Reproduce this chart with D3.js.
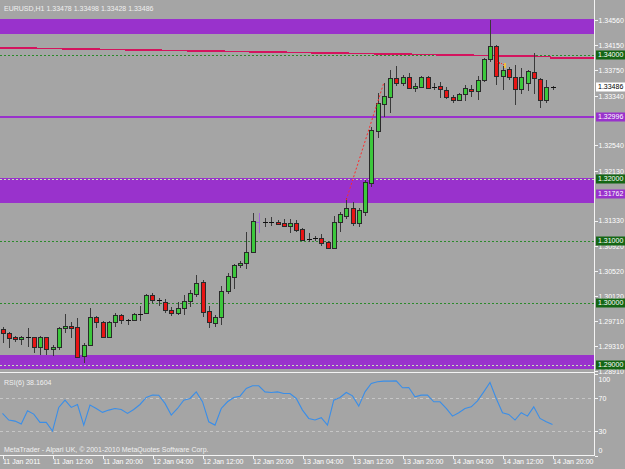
<!DOCTYPE html>
<html>
<head>
<meta charset="utf-8">
<script src="https://cdn.jsdelivr.net/npm/d3@7"></script>
<style>
  html, body { margin: 0; padding: 0; background: #a5a5a5; }
  svg { display: block; }
  text { font-family: "Liberation Sans", Arial, sans-serif; font-size: 7px; }
</style>
</head>
<body>
<div class="container"></div>
<script>
const WIDTH = 625;
const HEIGHT = 469;

// EURUSD H1 bars, 11 Jan 04:00 .. 14 Jan 20:00
const open = [
  1.29585,1.29521,1.29456,1.29424,1.29456,1.29456,1.29295,1.29456,1.29263,1.29295,
  1.29601,1.29633,1.29617,1.29150,1.29328,1.29778,1.29698,1.29456,1.29698,1.29811,
  1.29730,1.29730,1.29827,1.29843,1.30133,1.30052,1.30020,1.29891,1.29843,1.29923,
  1.30036,1.30149,1.30342,1.29875,1.29682,1.29778,1.30197,1.30422,1.30616,1.30648,
  1.30825,1.31308,1.31308,1.31308,1.31308,1.31292,1.31243,1.31292,1.31195,1.31034,
  1.31050,1.31050,1.30986,1.30889,1.31308,1.31404,1.31533,1.31292,1.31469,1.31936,
  1.32773,1.33208,1.33320,1.33626,1.33546,1.33642,1.33465,1.33481,1.33642,1.33481,
  1.33497,1.33433,1.33320,1.33272,1.33369,1.33449,1.33417,1.33594,1.33932,1.34141,
  1.33658,1.33771,1.33642,1.33449,1.33546,1.33723,1.33610,1.33272,1.33478];
const high = [
  1.29617,1.29537,1.29472,1.29472,1.29601,1.29456,1.29472,1.29456,1.29328,1.29617,
  1.29827,1.29698,1.29762,1.29360,1.29923,1.29794,1.29714,1.29714,1.29843,1.29827,
  1.29746,1.29843,1.29955,1.30149,1.30165,1.30084,1.30068,1.29939,1.30020,1.30133,
  1.30213,1.30455,1.30374,1.29955,1.29811,1.30277,1.30487,1.30632,1.30680,1.31147,
  1.31453,1.31453,1.31372,1.31388,1.31340,1.31356,1.31356,1.31340,1.31211,1.31131,
  1.31082,1.31115,1.31002,1.31404,1.31469,1.31694,1.31630,1.31533,1.31984,1.32837,
  1.33385,1.33546,1.33755,1.33819,1.33675,1.33707,1.33546,1.33658,1.33658,1.33546,
  1.33562,1.33481,1.33353,1.33385,1.33514,1.33514,1.33658,1.33948,1.34560,1.34158,
  1.33819,1.33803,1.33836,1.33787,1.33755,1.34029,1.33626,1.33594,1.33498];
const low = [
  1.29360,1.29279,1.29376,1.29328,1.29295,1.29199,1.29167,1.29167,1.29150,1.29247,
  1.29521,1.29440,1.29118,1.29038,1.29311,1.29601,1.29440,1.29440,1.29617,1.29666,
  1.29650,1.29714,1.29714,1.29827,1.30004,1.29955,1.29843,1.29794,1.29811,1.29811,
  1.29939,1.30100,1.29778,1.29601,1.29617,1.29650,1.30149,1.30229,1.30567,1.30551,
  1.30809,1.31131,1.31227,1.31243,1.31260,1.31227,1.31131,1.31147,1.31002,1.30986,
  1.31002,1.30921,1.30873,1.30873,1.31147,1.31356,1.31243,1.31227,1.31404,1.31871,
  1.32660,1.32998,1.33063,1.33497,1.33497,1.33449,1.33401,1.33465,1.33465,1.33433,
  1.33304,1.33288,1.33224,1.33256,1.33256,1.33320,1.33272,1.33562,1.33884,1.33514,
  1.33433,1.33594,1.33192,1.33369,1.33417,1.33369,1.33143,1.33224,1.33428];
const close = [
  1.29521,1.29440,1.29424,1.29456,1.29456,1.29295,1.29456,1.29263,1.29295,1.29601,
  1.29633,1.29601,1.29134,1.29328,1.29778,1.29698,1.29456,1.29698,1.29811,1.29730,
  1.29730,1.29827,1.29827,1.30133,1.30052,1.30052,1.29891,1.29843,1.29923,1.30036,
  1.30165,1.30326,1.29859,1.29698,1.29778,1.30197,1.30438,1.30616,1.30648,1.30825,
  1.31324,1.31308,1.31308,1.31308,1.31276,1.31243,1.31292,1.31179,1.31018,1.31034,
  1.31050,1.30970,1.30889,1.31308,1.31437,1.31533,1.31292,1.31501,1.31952,1.32789,
  1.33224,1.33336,1.33626,1.33546,1.33642,1.33465,1.33497,1.33642,1.33465,1.33481,
  1.33449,1.33320,1.33272,1.33369,1.33465,1.33417,1.33594,1.33932,1.34141,1.33658,
  1.33755,1.33642,1.33449,1.33642,1.33739,1.33626,1.33272,1.33481,1.33486];
const rsi = [
  51.6,43.5,42.2,38.6,54.9,50.8,40.6,40.6,30.0,59.0,
  67.9,59.0,62.6,37.3,61.8,57.7,52.9,55.7,57.7,56.5,
  51.6,56.5,62.6,71.2,74.1,74.0,63.9,49.6,57.7,67.9,
  70.0,78.1,66.0,41.4,37.3,57.7,65.9,71.2,72.8,82.2,
  85.5,85.5,78.1,77.3,78.1,76.1,76.1,70.0,55.7,45.5,
  43.5,46.3,37.3,67.9,71.2,77.3,73.2,60.6,78.1,88.3,
  90.4,91.2,91.2,91.6,83.1,83.5,72.0,74.1,74.1,65.9,
  65.9,57.7,48.3,52.5,57.7,59.7,67.1,78.1,89.6,70.0,
  52.5,50.4,43.5,52.5,48.3,59.7,45.5,41.4,38.1604];

const timeTickBars = [0, 8, 16, 24, 32, 40, 48, 56, 64, 72, 80, 88];
const timeLabels = ['11 Jan 2011', '11 Jan 12:00', '11 Jan 20:00', '12 Jan 04:00', '12 Jan 12:00',
  '12 Jan 20:00', '13 Jan 04:00', '13 Jan 12:00', '13 Jan 20:00', '14 Jan 04:00',
  '14 Jan 12:00', '14 Jan 20:00'];
// visible price scale labels (1.32940 and 1.31730 sit under object labels)
const priceTicks = [1.34560, 1.34150, 1.33750, 1.33340, 1.32540, 1.32130,
  1.31330, 1.30920, 1.30520, 1.30120, 1.29710, 1.29310, 1.28910];
const rsiTicks = [0, 30, 70, 100];
const rsiLevels = [30, 70];

// chart objects
const levelLines = [1.34, 1.32, 1.31, 1.30, 1.29];
const zoneLow = [1.34335, 1.31614, 1.28941];
const zoneHigh = [1.34576, 1.32016, 1.29167];
const purpleLine = 1.32996;
const maBars = [-0.4, 87.6, 87.76, 94.6];
const maPrices = [1.34114, 1.33972, 1.33948, 1.33948];
const tradeBars = [55, 61];
const tradePrices = [1.31662, 1.33546];
const markedBar = 41;
const labelPrices = [1.34000, 1.33486, 1.32996, 1.32000, 1.31762, 1.31000, 1.30000, 1.29000];
const labelKinds = ['level', 'bid', 'object', 'level', 'object', 'level', 'level', 'level'];

const PLOT_R = 594;
const MAIN_B = 372.5;
const RSI_B = 455.5;

const bullFill = '#3cc83c';
const bearFill = '#e81414';
const purple = '#9932cc';
const fmt = d3.format('.5f');

const svg = d3.select('.container').append('svg')
  .attr('width', WIDTH)
  .attr('height', HEIGHT);

svg.append('rect').attr('width', WIDTH).attr('height', HEIGHT).attr('fill', '#a5a5a5');

const x = d3.scaleLinear().domain([0, 88]).range([2.5, 552.5]);
const y = d3.scaleLinear().domain([1.28910, 1.34560]).range([371, 20]);
const yr = d3.scaleLinear().domain([0, 100]).range([455.5, 374]);

svg.append('clipPath').attr('id', 'mainclip')
  .append('rect').attr('x', 0).attr('y', 0).attr('width', PLOT_R).attr('height', MAIN_B);

const main = svg.append('g').attr('clip-path', 'url(#mainclip)').attr('shape-rendering', 'crispEdges');

// purple zones
main.selectAll('.zone').data(zoneLow).enter().append('rect')
  .attr('class', 'zone')
  .attr('x', 0)
  .attr('width', PLOT_R)
  .attr('y', function (d, i) { return y(zoneHigh[i]); })
  .attr('height', function (d, i) { return y(d) - y(zoneHigh[i]); })
  .attr('fill', purple);

// horizontal levels (lighter where they cross a zone)
main.selectAll('.level').data(levelLines).enter().append('line')
  .attr('x1', 0).attr('x2', PLOT_R)
  .attr('y1', function (d) { return Math.round(y(d)) + 0.5; })
  .attr('y2', function (d) { return Math.round(y(d)) + 0.5; })
  .attr('stroke', function (d) {
    var inZone = zoneLow.some(function (lo, i) { return d >= lo && d <= zoneHigh[i]; });
    return inZone ? '#c4e0b8' : '#2b8a2b';
  })
  .attr('stroke-dasharray', '2,2');

main.append('line')
  .attr('x1', 0).attr('x2', PLOT_R)
  .attr('y1', y(purpleLine)).attr('y2', y(purpleLine))
  .attr('stroke', purple).attr('stroke-width', 2);

var maLine = d3.line()
  .x(function (d) { return x(d[0]); })
  .y(function (d) { return y(d[1]); });
main.append('path')
  .attr('d', maLine(d3.zip(maBars, maPrices)))
  .attr('fill', 'none').attr('stroke', '#d4145e').attr('stroke-width', 1.6);

// candles
var idx = d3.range(open.length);
var candles = main.selectAll('.candle').data(idx).enter().append('g').attr('class', 'candle');

candles.append('line')
  .attr('x1', function (i) { return Math.round(x(i)) + 0.5; })
  .attr('x2', function (i) { return Math.round(x(i)) + 0.5; })
  .attr('y1', function (i) { return y(high[i]); })
  .attr('y2', function (i) { return y(low[i]); })
  .attr('stroke', function (i) { return i === markedBar ? '#a066d8' : '#3a3a3a'; });

candles.each(function (i) {
  var g = d3.select(this);
  var cx = Math.round(x(i));
  var top = y(Math.max(open[i], close[i]));
  var bot = y(Math.min(open[i], close[i]));
  if (i === markedBar) {
    g.append('line').attr('x1', cx - 3).attr('x2', cx + 1)
      .attr('y1', Math.round(top) + 0.5).attr('y2', Math.round(top) + 0.5)
      .attr('stroke', '#a066d8');
  } else if (bot - top < 1.5) {
    g.append('line').attr('x1', cx - 2).attr('x2', cx + 3)
      .attr('y1', Math.round(top) + 0.5).attr('y2', Math.round(top) + 0.5)
      .attr('stroke', '#111');
  } else {
    g.append('rect')
      .attr('x', cx - 1.5).attr('width', 4)
      .attr('y', Math.round(top) + 0.5).attr('height', Math.max(1, Math.round(bot - top)))
      .attr('fill', close[i] > open[i] ? bullFill : bearFill)
      .attr('stroke', '#2a2a2a');
  }
});

// trade line and close marker
main.append('path')
  .attr('d', maLine(d3.zip(tradeBars, tradePrices)))
  .attr('fill', 'none').attr('stroke', '#ff2a2a').attr('stroke-dasharray', '2,2')
  .attr('shape-rendering', 'auto');
main.append('path')
  .attr('d', maLine([[79.2, 1.33884], [80.2, 1.33836]]))
  .attr('fill', 'none').attr('stroke', '#ff2a2a').attr('stroke-dasharray', '1,1');
main.append('rect')
  .attr('x', x(80.3)).attr('y', y(1.33870)).attr('width', 2).attr('height', 5)
  .attr('fill', '#f0c040');

// RSI pane
var rsiG = svg.append('g');
rsiG.selectAll('.rl').data(rsiLevels).enter().append('line')
  .attr('x1', 0).attr('x2', PLOT_R)
  .attr('y1', function (d) { return Math.round(yr(d)) + 0.5; })
  .attr('y2', function (d) { return Math.round(yr(d)) + 0.5; })
  .attr('stroke', '#c6c6c6').attr('stroke-dasharray', '3,3');

rsiG.append('path')
  .attr('d', d3.line()
    .x(function (d, i) { return x(i); })
    .y(function (d) { return yr(d); })(rsi))
  .attr('fill', 'none').attr('stroke', '#3a8ee8').attr('stroke-width', 1.1);

// frame lines
var frame = svg.append('g').attr('stroke', '#f4f4f4').attr('shape-rendering', 'crispEdges');
frame.append('line').attr('x1', PLOT_R + 0.5).attr('x2', PLOT_R + 0.5).attr('y1', 0).attr('y2', RSI_B);
frame.append('line').attr('x1', 0).attr('x2', PLOT_R).attr('y1', MAIN_B).attr('y2', MAIN_B);
frame.append('line').attr('x1', 0).attr('x2', PLOT_R + 1).attr('y1', RSI_B).attr('y2', RSI_B);

// axes
function styleAxis(g) {
  g.select('.domain').remove();
  g.selectAll('line').attr('stroke', '#f4f4f4').attr('shape-rendering', 'crispEdges');
  g.selectAll('text').attr('fill', '#ffffff').attr('font-size', 7)
    .attr('font-family', '"Liberation Sans", Arial, sans-serif');
}

svg.append('g')
  .attr('transform', 'translate(' + (PLOT_R + 0.5) + ',0)')
  .call(d3.axisRight(y).tickValues(priceTicks).tickFormat(fmt).tickSize(3).tickPadding(1))
  .call(styleAxis);

svg.append('g')
  .attr('transform', 'translate(' + (PLOT_R + 0.5) + ',0)')
  .call(d3.axisRight(yr).tickValues(rsiTicks).tickSize(3).tickPadding(1))
  .call(styleAxis)
  .selectAll('text')
  .attr('dy', function (d) { return d === 100 ? '1.0em' : d === 0 ? '-0.4em' : '0.32em'; });

svg.append('g')
  .attr('transform', 'translate(0,' + RSI_B + ')')
  .call(d3.axisBottom(x).tickValues(timeTickBars)
    .tickFormat(function (d, i) { return timeLabels[i]; }).tickSize(3))
  .call(styleAxis)
  .selectAll('text')
  .attr('text-anchor', 'start').attr('x', 0).attr('y', 4);

// price labels on the right axis
var labels = svg.selectAll('.plabel').data(labelPrices).enter().append('g')
  .attr('transform', function (d) { return 'translate(596,' + Math.round(y(d)) + ')'; });
labels.append('rect')
  .attr('x', 0).attr('y', -4.5).attr('width', 29).attr('height', 9)
  .attr('fill', function (d, i) {
    return labelKinds[i] === 'level' ? '#146614' : labelKinds[i] === 'bid' ? '#ffffff' : purple;
  });
labels.append('text')
  .attr('x', 2).attr('dy', '0.34em')
  .attr('fill', function (d, i) { return labelKinds[i] === 'bid' ? '#000000' : '#ffffff'; })
  .text(function (d) { return fmt(d); });

// captions
svg.append('text').attr('x', 4).attr('y', 11).attr('fill', '#f0f0f0')
  .text('EURUSD,H1  ' + [open[88], high[88], low[88], close[88]].map(fmt).join(' '));
svg.append('text').attr('x', 4).attr('y', 385).attr('fill', '#f0f0f0')
  .text('RSI(6) ' + rsi[rsi.length - 1].toFixed(4));
svg.append('text').attr('x', 4).attr('y', 452).attr('fill', '#f0f0f0')
  .text('MetaTrader - Alpari UK, \u00a9 2001-2010 MetaQuotes Software Corp.');
</script>
</body>
</html>
